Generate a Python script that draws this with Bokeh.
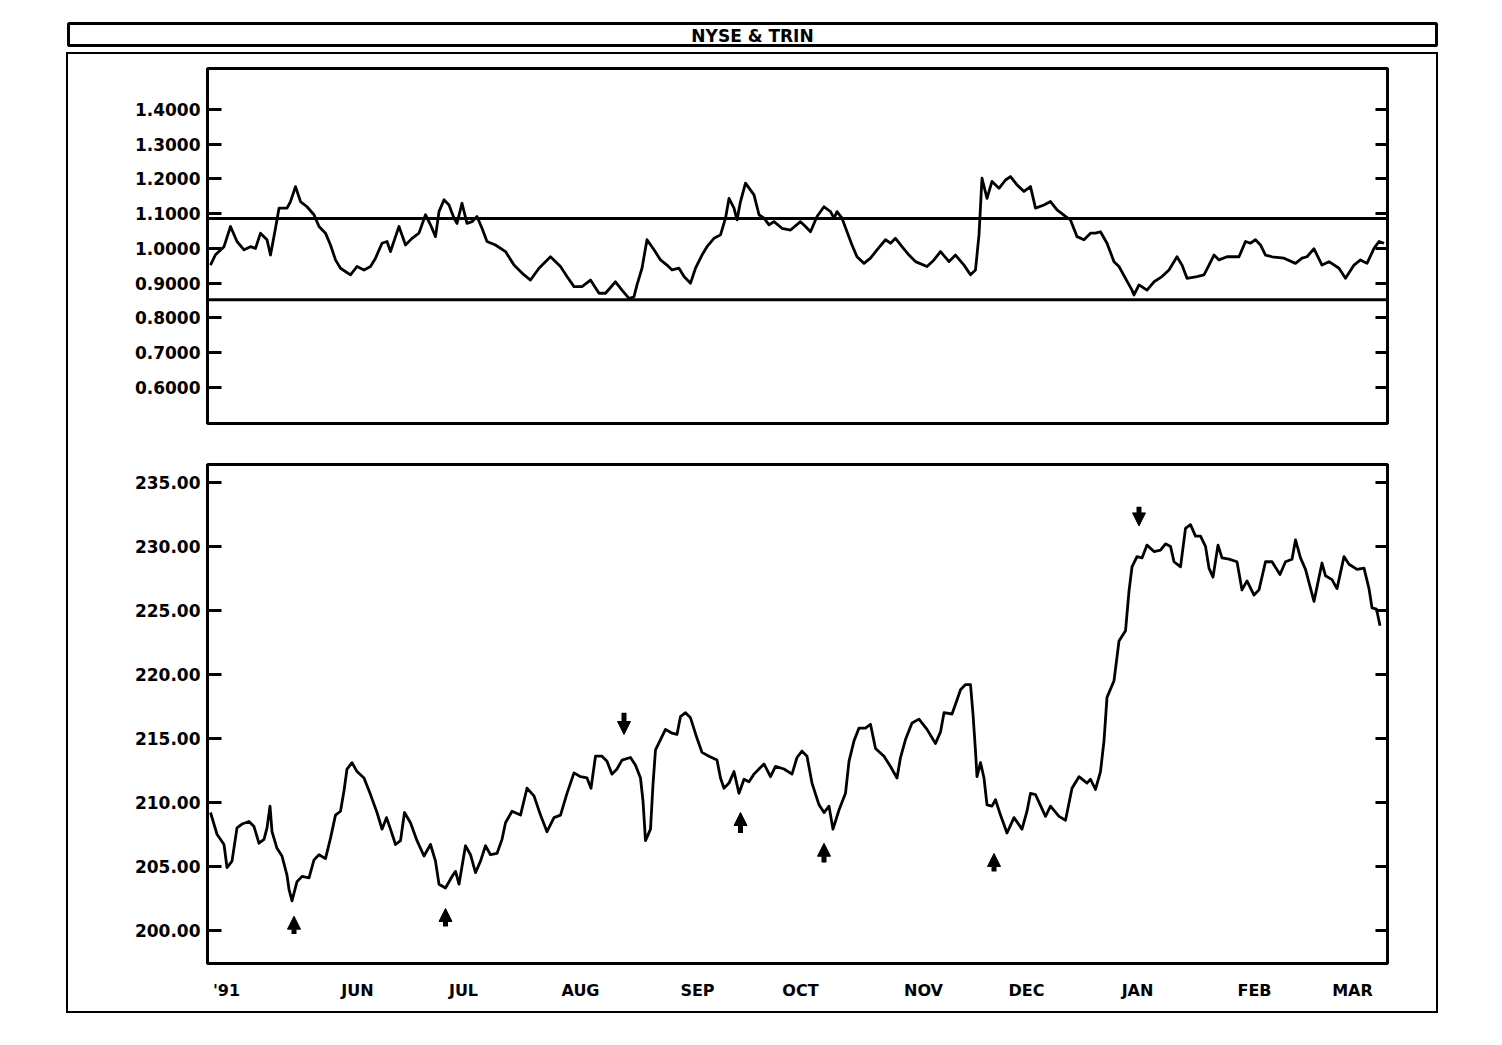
from bokeh.plotting import figure
from bokeh.models import (Range1d, FixedTicker, PrintfTickFormatter, LinearAxis, Span,
                          Arrow, NormalHead, ColumnDataSource, CustomJSTickFormatter, Label)
from bokeh.layouts import column
from bokeh.embed import file_html
from bokeh.resources import INLINE

# ---------------- data (x = trading-day index from start of chart) ----------------
trin_day = [0.6, 1.6, 3.3, 4.6, 5.9, 7.3, 8.6, 9.6, 10.6, 11.9, 12.6, 13.6, 14.3, 15.9, 16.6, 17.6,
            18.6, 19.9, 21.3, 22.3, 23.6, 24.6, 25.6, 26.6, 28.6, 29.9, 31.3, 32.6, 33.6, 34.9, 35.9,
            36.6, 37.6, 38.3, 39.6, 40.9, 42.3, 43.6, 44.6, 45.6, 46.3, 47.3, 48.3, 49.3, 49.9, 50.9,
            51.9, 52.9, 53.9, 54.9, 55.9, 57.6, 59.6, 61.3, 62.9, 64.6, 66.3, 68.6, 70.6, 71.9, 73.3,
            74.9, 76.6, 78.3, 79.6, 81.6, 82.9, 84.3, 85.3, 85.9, 86.9, 87.9, 89.3, 90.6, 91.9, 92.9,
            94.3, 95.3, 96.6, 97.6, 98.9, 99.9, 101.3, 102.6, 103.6, 104.3, 105.3, 105.9, 106.6, 107.6,
            109.3, 110.3, 111.3, 112.3, 113.3, 114.9, 116.6, 118.6, 119.6, 120.6, 121.9, 123.3, 124.6,
            125.3, 125.9, 126.9, 127.9, 128.9, 129.9, 131.3, 132.6, 133.9, 135.6, 136.6, 137.6, 138.9,
            140.3, 141.6, 143.9, 145.3, 146.6, 148.3, 149.6, 151.3, 152.6, 153.6, 154.3, 154.9, 155.9,
            156.9, 158.3, 159.6, 160.6, 161.9, 163.3, 164.6, 165.6, 167.3, 168.6, 169.9, 171.6, 172.6,
            173.9, 175.3, 176.6, 177.6, 178.6, 179.9, 181.3, 182.3, 183.6, 184.9, 185.3, 186.3, 187.9,
            189.3, 190.9, 192.3, 193.9, 194.9, 195.9, 197.9, 199.3, 200.3, 201.3, 202.3, 203.9, 206.3,
            207.6, 208.6, 209.6, 210.6, 211.6, 212.9, 215.3, 217.6, 218.9, 219.9, 221.3, 222.9, 224.3,
            226.3, 227.6, 229.3, 230.6, 231.9, 233.3, 234.3, 235.3]
trin_val = [0.952, 0.982, 1.005, 1.063, 1.020, 0.996, 1.005, 1.000, 1.044, 1.025, 0.981, 1.058, 1.116,
            1.116, 1.135, 1.178, 1.135, 1.120, 1.097, 1.063, 1.044, 1.010, 0.967, 0.943, 0.924, 0.948,
            0.938, 0.948, 0.972, 1.015, 1.020, 0.991, 1.034, 1.063, 1.010, 1.029, 1.044, 1.097, 1.068,
            1.034, 1.106, 1.140, 1.125, 1.087, 1.072, 1.130, 1.072, 1.077, 1.092, 1.058, 1.020, 1.010,
            0.991, 0.952, 0.929, 0.909, 0.943, 0.976, 0.948, 0.919, 0.890, 0.890, 0.909, 0.871, 0.871,
            0.904, 0.880, 0.856, 0.861, 0.895, 0.943, 1.025, 0.996, 0.967, 0.952, 0.938, 0.943, 0.919,
            0.900, 0.943, 0.981, 1.005, 1.029, 1.039, 1.087, 1.144, 1.116, 1.082, 1.135, 1.188, 1.154,
            1.097, 1.087, 1.068, 1.077, 1.058, 1.053, 1.077, 1.063, 1.048, 1.092, 1.120, 1.106, 1.087,
            1.106, 1.087, 1.048, 1.010, 0.976, 0.957, 0.972, 0.996, 1.025, 1.015, 1.029, 1.005, 0.981,
            0.962, 0.948, 0.967, 0.991, 0.962, 0.981, 0.952, 0.924, 0.938, 1.039, 1.202, 1.144, 1.193,
            1.173, 1.197, 1.207, 1.183, 1.164, 1.178, 1.116, 1.125, 1.135, 1.111, 1.092, 1.082, 1.034,
            1.025, 1.044, 1.044, 1.048, 1.015, 0.962, 0.948, 0.914, 0.880, 0.866, 0.895, 0.880, 0.904,
            0.919, 0.938, 0.976, 0.952, 0.914, 0.919, 0.924, 0.952, 0.981, 0.967, 0.976, 0.976, 1.020,
            1.015, 1.025, 1.010, 0.981, 0.976, 0.972, 0.957, 0.972, 0.976, 0.999, 0.952, 0.962, 0.943,
            0.914, 0.952, 0.967, 0.957, 1.000, 1.020, 1.015]
trin_bands = [1.086, 0.852]

nyse_day = [0.6, 1.9, 3.3, 3.9, 4.9, 5.9, 6.9, 8.3, 9.3, 10.3, 11.3, 11.9, 12.5, 12.9, 13.9, 14.9, 15.9,
            16.3, 16.9, 17.9, 18.9, 20.3, 21.3, 22.3, 23.6, 24.6, 25.6, 26.6, 27.3, 27.9, 28.9, 29.9,
            31.3, 32.6, 33.9, 34.9, 35.8, 36.6, 37.6, 38.6, 39.4, 40.6, 41.9, 43.3, 44.6, 45.6, 46.3,
            47.6, 48.9, 49.6, 50.3, 51.6, 52.6, 53.6, 54.6, 55.6, 56.6, 57.9, 58.9, 59.6, 60.9, 62.6,
            63.9, 65.3, 66.6, 67.9, 69.3, 70.6, 71.9, 73.3, 74.6, 75.9, 76.7, 77.6, 78.9, 79.9, 80.9,
            81.9, 82.9, 84.6, 85.6, 86.6, 87.1, 87.6, 88.6, 89.1, 89.6, 90.6, 91.6, 92.9, 93.9, 94.6,
            95.6, 96.6, 97.9, 98.9, 100.3, 101.9, 102.6, 103.3, 104.3, 105.3, 106.3, 107.3, 108.3,
            109.3, 110.3, 111.3, 112.6, 113.6, 115.3, 116.9, 117.9, 118.9, 119.9, 120.9, 122.3, 123.3,
            124.3, 125.1, 126.3, 127.6, 128.3, 129.3, 130.3, 131.6, 132.6, 133.6, 135.3, 136.6, 137.9,
            138.6, 139.6, 140.9, 142.3, 143.9, 145.6, 146.6, 147.3, 148.9, 149.9, 150.6, 151.6, 152.6,
            153.1, 153.6, 153.9, 154.6, 155.3, 155.9, 156.9, 157.6, 158.6, 159.9, 161.3, 162.9, 163.9,
            164.6, 165.6, 167.6, 168.6, 170.3, 171.6, 172.9, 174.3, 175.9, 176.6, 177.6, 178.6, 179.3,
            179.9, 181.3, 182.3, 183.6, 184.3, 184.9, 185.9, 186.9, 187.9, 189.3, 190.6, 191.6, 192.6,
            193.3, 194.6, 195.6, 196.6, 197.6, 198.6, 199.6, 200.3, 201.1, 202.1, 202.9, 204.3, 205.9,
            206.9, 207.9, 209.3, 210.3, 211.6, 212.9, 214.5, 215.6, 216.9, 217.6, 218.6, 219.6, 221.3,
            222.9, 223.6, 224.9, 225.9, 227.3, 228.3, 229.9, 231.3, 232.3, 232.9, 233.8, 234.5]
nyse_val = [209.2, 207.5, 206.7, 204.9, 205.4, 208.0, 208.3, 208.5, 208.1, 206.8, 207.1, 208.0, 209.7,
            207.7, 206.4, 205.8, 204.3, 203.2, 202.3, 203.8, 204.2, 204.1, 205.5, 205.9, 205.6, 207.2,
            209.0, 209.3, 210.9, 212.6, 213.1, 212.4, 211.9, 210.6, 209.2, 207.9, 208.8, 207.9, 206.7,
            207.0, 209.2, 208.4, 207.0, 205.8, 206.7, 205.4, 203.6, 203.3, 204.2, 204.6, 203.6, 206.6,
            205.9, 204.5, 205.4, 206.6, 205.9, 206.0, 207.1, 208.4, 209.3, 209.0, 211.1, 210.5, 209.0,
            207.7, 208.8, 209.0, 210.7, 212.3, 212.0, 211.9, 211.1, 213.6, 213.6, 213.2, 212.2, 212.6,
            213.3, 213.5, 212.9, 211.9, 210.1, 207.0, 207.9, 211.4, 214.1, 214.9, 215.7, 215.4, 215.3,
            216.7, 217.0, 216.6, 215.0, 213.9, 213.6, 213.3, 211.9, 211.1, 211.5, 212.4, 210.7, 211.8,
            211.6, 212.2, 212.6, 213.0, 212.0, 212.8, 212.6, 212.2, 213.5, 214.0, 213.6, 211.5, 209.8,
            209.2, 209.7, 207.9, 209.4, 210.7, 213.2, 214.8, 215.8, 215.8, 216.1, 214.2, 213.6, 212.8,
            211.9, 213.5, 214.9, 216.2, 216.5, 215.7, 214.6, 215.5, 217.0, 216.9, 218.0, 218.8, 219.2,
            219.2, 216.9, 214.0, 212.0, 213.1, 211.9, 209.8, 209.7, 210.2, 209.0, 207.6, 208.8, 207.9,
            209.3, 210.7, 210.6, 208.9, 209.7, 208.9, 208.6, 211.1, 212.0, 211.5, 211.8, 211.0, 212.4,
            214.8, 218.2, 219.5, 222.6, 223.4, 226.5, 228.4, 229.2, 229.1, 230.1, 229.6, 229.7, 230.2,
            230.0, 228.8, 228.4, 231.4, 231.7, 230.8, 230.8, 230.0, 228.3, 227.6, 230.1, 229.1, 229.0,
            228.8, 226.6, 227.3, 226.2, 226.6, 228.8, 228.8, 227.8, 228.8, 229.0, 230.5, 229.1, 228.2,
            225.7, 228.7, 227.7, 227.4, 226.7, 229.2, 228.6, 228.2, 228.3, 226.7, 225.2, 225.1, 223.8]

# signal arrows (up = buy, down = sell)
arrow_day = [17.3, 47.6, 106.6, 123.3, 157.3, 83.3, 186.3]
arrow_base = [199.7, 200.3, 207.6, 205.3, 204.6, 217.0, 233.1]
arrow_tip = [201.1, 201.7, 209.2, 206.8, 206.0, 215.3, 231.6]

trin_ticks = [0.6, 0.7, 0.8, 0.9, 1.0, 1.1, 1.2, 1.3, 1.4]
nyse_ticks = [200, 205, 210, 215, 220, 225, 230, 235]
month_pos = [3.8, 30, 51.2, 74.6, 98, 118.6, 143.2, 163.8, 186, 209.4, 229]
month_lab = ["'91", "JUN", "JUL", "AUG", "SEP", "OCT", "NOV", "DEC", "JAN", "FEB", "MAR"]

FONT = "DejaVu Sans"
W = 1368
XR = (0, 236)


def setup(p, ticks, fmt):
    p.grid.visible = False
    p.outline_line_color = "black"
    p.outline_line_width = 3
    p.background_fill_color = "white"
    p.border_fill_color = "white"
    ax = p.yaxis[0]
    ax.ticker = FixedTicker(ticks=ticks)
    ax.formatter = PrintfTickFormatter(format=fmt)
    ax.major_tick_in = 14
    ax.major_tick_out = 0
    ax.minor_tick_line_color = None
    ax.major_tick_line_width = 3
    ax.axis_line_width = 3
    ax.major_label_standoff = 7
    ax.major_label_text_font = FONT
    ax.major_label_text_font_style = "bold"
    ax.major_label_text_font_size = "17px"
    ax.major_label_text_color = "black"
    rax = LinearAxis(ticker=FixedTicker(ticks=ticks),
                     formatter=CustomJSTickFormatter(code="return ''"),
                     major_tick_in=12, major_tick_out=0, minor_tick_line_color=None,
                     major_tick_line_width=3, axis_line_width=3, major_label_standoff=0)
    p.add_layout(rax, "right")


# ---------------- title box ----------------
tf = figure(width=1372, height=26, x_range=Range1d(0, 1), y_range=Range1d(0, 1),
            toolbar_location=None, output_backend="svg", min_border=2,
            x_axis_location=None, y_axis_location=None)
tf.grid.visible = False
tf.outline_line_color = "black"
tf.outline_line_width = 3
tf.add_layout(Label(x=0.5, y=0.42, text="NYSE & TRIN", text_align="center",
                    text_baseline="middle", text_font=FONT, text_font_style="bold",
                    text_font_size="17px", text_color="black"))

# ---------------- TRIN panel ----------------
top = figure(width=W, height=389, x_range=Range1d(*XR), y_range=Range1d(0.496, 1.518),
             toolbar_location=None, output_backend="svg",
             min_border_left=139, min_border_right=49, min_border_top=14, min_border_bottom=20,
             x_axis_location=None)
setup(top, trin_ticks, "%.4f")
for lvl in trin_bands:
    top.add_layout(Span(location=lvl, dimension="width", line_color="black", line_width=3))
top.line(trin_day, trin_val, line_color="black", line_width=2.8, line_join="round")

# ---------------- NYSE panel ----------------
bot = figure(width=W, height=568, x_range=Range1d(*XR), y_range=Range1d(197.4, 236.4),
             toolbar_location=None, output_backend="svg",
             min_border_left=139, min_border_right=49, min_border_top=21, min_border_bottom=48)
setup(bot, nyse_ticks, "%.2f")
xa = bot.xaxis[0]
xa.ticker = FixedTicker(ticks=month_pos)
xa.major_label_overrides = {pos: lab for pos, lab in zip(month_pos, month_lab)}
xa.major_tick_in = 0
xa.major_tick_out = 0
xa.minor_tick_line_color = None
xa.axis_line_width = 3
xa.major_label_standoff = 17
xa.major_label_text_font = FONT
xa.major_label_text_font_style = "bold"
xa.major_label_text_font_size = "16px"
xa.major_label_text_color = "black"

bot.line(nyse_day, nyse_val, line_color="black", line_width=2.8, line_join="round")

asrc = ColumnDataSource(dict(x=arrow_day, y0=arrow_base, y1=arrow_tip))
bot.add_layout(Arrow(end=NormalHead(size=13, fill_color="black", line_color="black", line_width=1),
                     x_start="x", y_start="y0", x_end="x", y_end="y1", source=asrc,
                     line_color="black", line_width=5))

main = column(top, bot, styles={"border": "2px solid black"}, margin=(5, 0, 0, 0))
page = column(tf, main, margin=(21, 0, 0, 66))

open("out.html", "w").write(file_html(page, INLINE))
